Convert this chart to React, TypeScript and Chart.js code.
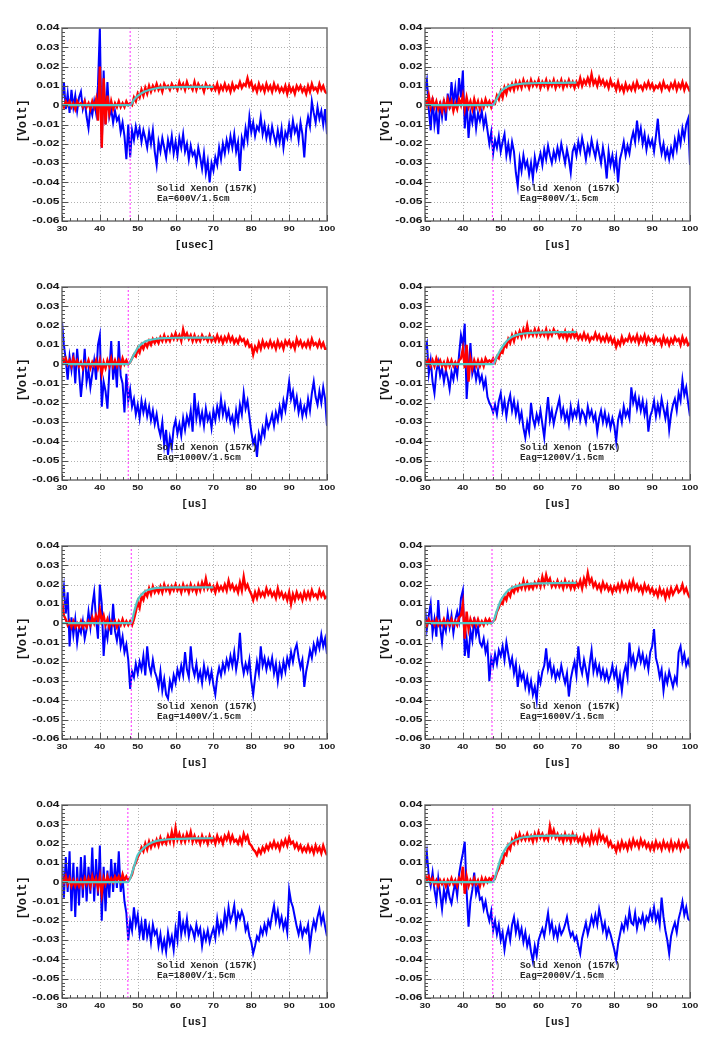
import { useEffect, useRef } from "react";
import { Chart, registerables } from "chart.js";

Chart.register(...registerables);

const T0_US = 30;
const DT_US = 0.5;

const X_TICKS = [30, 40, 50, 60, 70, 80, 90, 100];
const X_TICK_LABELS = ["30", "40", "50", "60", "70", "80", "90", "100"];
const Y_TICKS = [0.04, 0.03, 0.02, 0.01, 0, -0.01, -0.02, -0.03, -0.04, -0.05, -0.06];
const Y_TICK_LABELS = ["0.04", "0.03", "0.02", "0.01", "0", "-0.01", "-0.02", "-0.03", "-0.04", "-0.05", "-0.06"];

const SAMPLE_LABEL = "Solid Xenon (157K)";
const FIELD_LABELS = [
  "Ea=600V/1.5cm", "Eag=800V/1.5cm", "Eag=1000V/1.5cm", "Eag=1200V/1.5cm",
  "Eag=1400V/1.5cm", "Eag=1600V/1.5cm", "Ea=1800V/1.5cm", "Eag=2000V/1.5cm",
];
const X_TITLES = ["[usec]", "[us]", "[us]", "[us]", "[us]", "[us]", "[us]", "[us]"];
const Y_TITLE = "[Volt]";

// trigger marker (dotted magenta) position per panel, us
const TRIGGER_US = [48.0, 47.8, 47.5, 48.0, 48.3, 47.7, 47.4, 47.9];

// fit curve: times after onset, values in mV (first value at 30us, second at onset)
const FIT_T_AFTER = [49, 50, 51, 52, 53, 55, 57, 60, 65, 70];
const FIT_600 = [0, 0, 2.8, 4.8, 6.2, 7.2, 7.9, 8.8, 9.2, 9.4, 9.5, 9.5];
const FIT_800 = [0, 0, 3.5, 7.0, 8.7, 9.8, 10.4, 11.0, 11.3, 11.5, 11.6, 11.7];
const FIT_1000 = [0, 0, 5.0, 8.5, 10.5, 11.8, 12.5, 13.2, 13.5, 13.7, 13.8, 13.8];
const FIT_1200 = [0, 0, 4.0, 7.6, 10.6, 12.8, 14.2, 15.6, 16.1, 16.4, 16.6, 16.7];
const FIT_1400 = [0, 0, 5.5, 12.0, 14.8, 16.6, 17.4, 18.3, 18.5, 18.6, 18.6, 18.6];
const FIT_1600 = [0, 0, 6.5, 11.8, 14.8, 17.0, 18.4, 19.6, 20.2, 20.6, 20.8, 20.9];
const FIT_1800 = [0, 0, 8.0, 14.1, 16.5, 18.4, 19.8, 21.4, 22.0, 22.4, 22.7, 22.8];
const FIT_2000 = [0, 0, 6.0, 12.4, 16.5, 19.3, 21.0, 22.8, 23.5, 24.0, 24.1, 24.1];

// red trace (mV), 30..100 us every 0.5 us
const RED_600 = [
  1, -1, 2, 0, 2, -1, 1, -2, 2, 0,
  1, -1, 2, -1, 1, -2, 2, -1, 3, -8,
  20, -22, 14, -10, 5, -4, 2, -2, 1, -1,
  2, -1, 1, -1, 2, 0, 1, 0, 4, 2,
  6, 4, 8, 5, 9, 6, 10, 7, 10, 8,
  11, 8, 10, 7, 11, 9, 10, 8, 11, 9,
  10, 8, 12, 9, 11, 8, 12, 9, 10, 8,
  12, 8, 11, 9, 10, 7, 11, 9, 10, 8,
  10, 8, 11, 7, 10, 8, 11, 8, 10, 7,
  11, 8, 10, 9, 12, 9, 11, 10, 14, 10,
  12, 8, 10, 7, 11, 8, 10, 7, 11, 8,
  10, 7, 11, 8, 10, 7, 9, 7, 10, 6,
  10, 7, 9, 6, 10, 8, 10, 7, 9, 6,
  10, 7, 11, 8, 9, 7, 11, 8, 10, 7,
  6,
];
const BLUE_600 = [
  3, 12, -2, 6, -4, 8, -1, 5, -3, 4,
  7, -2, 2, -6, -12, -1, -5, 2, -4, 10,
  40, -22, 18, -10, 12, -6, -2, -9, -3, -8,
  -6, -14, -9, -16, -28, -10, -27, -13, -18, -11,
  -16, -12, -19, -13, -17, -22, -14, -20, -13, -24,
  -31, -19, -24, -17, -22, -27, -18, -23, -16, -25,
  -19, -26, -17, -22, -15, -24, -20, -28, -21, -26,
  -24, -30, -22, -27, -33, -25, -35, -29, -40, -30,
  -34, -27, -31, -22, -28, -20, -25, -18, -23, -16,
  -22, -15, -24, -19, -34, -17, -21, -12, -18, -6,
  -14, -9, -16, -11, -13, -6, -15, -10, -17, -12,
  -18, -11, -16, -20, -13, -19, -12, -22, -14, -17,
  -10, -16, -8, -14, -11, -18, -9, -15, -27, -12,
  -6, -11, 2, -4, -9, -1, -7, -3, -10, -2,
  -15,
];

const RED_800 = [
  3, 0, 5, -1, 3, -1, 2, -2, 1, -3,
  2, -2, 3, -1, 2, -3, 1, -2, 3, 0,
  5, -2, 4, -1, 2, -2, 3, -1, 2, -2,
  2, -1, 3, 0, 2, -1, 2, 1, 5, 3,
  7, 4, 9, 6, 10, 8, 11, 8, 12, 9,
  12, 9, 13, 10, 12, 9, 13, 10, 12, 10,
  13, 9, 12, 10, 13, 9, 12, 10, 13, 9,
  12, 10, 13, 9, 12, 10, 13, 10, 12, 9,
  12, 10, 14, 10, 13, 11, 14, 11, 16, 11,
  13, 10, 14, 11, 13, 10, 12, 9, 13, 10,
  11, 8, 12, 8, 10, 7, 11, 8, 10, 8,
  11, 8, 12, 9, 10, 8, 11, 9, 12, 9,
  11, 8, 10, 9, 11, 8, 12, 9, 10, 8,
  11, 9, 12, 8, 11, 9, 12, 8, 11, 9,
  7,
];
const BLUE_800 = [
  8, 13, -2, -13, 4, -10, -3, -15, 2, -6,
  3, -8, 6, -2, 12, 1, 9, -1, 14, 4,
  18, -12, 2, -17, -4, -9, -2, -12, -4, -8,
  -3, -11, -6, -13, -20, -14, -25, -18, -22, -16,
  -24, -19, -15, -26, -20, -27, -19, -24, -35, -42,
  -28, -34, -26, -32, -29, -36, -30, -38, -27, -33,
  -29, -25, -31, -23, -28, -21, -26, -30, -24, -28,
  -22, -27, -20, -25, -30, -23, -28, -35, -24, -21,
  -26, -19, -24, -17, -22, -28, -21, -25, -18, -23,
  -27, -20, -25, -30, -22, -28, -38, -24, -31, -26,
  -33, -27, -40, -28, -24, -19, -26, -21, -25, -18,
  -14, -19, -8, -17, -12, -20, -15, -23, -17, -21,
  -18, -24, -16, -7, -19, -25, -20, -27, -23, -28,
  -22, -26, -18, -23, -15, -20, -12, -17, -10, -7,
  -31,
];

const RED_1000 = [
  4, 1, 3, 0, 2, -1, 3, 0, 2, -1,
  1, -2, 1, -1, 2, -2, 1, -1, 2, -2,
  2, -5, 1, -2, 2, -1, 3, -1, 2, -1,
  2, -1, 3, 0, 2, 0, 1, 3, 5, 4,
  8, 6, 10, 8, 11, 9, 12, 10, 13, 11,
  13, 11, 14, 12, 15, 12, 14, 12, 15, 13,
  16, 13, 15, 12, 18, 14, 16, 13, 15, 12,
  15, 12, 14, 12, 15, 13, 14, 12, 15, 12,
  14, 12, 15, 12, 14, 11, 14, 12, 15, 12,
  14, 11, 13, 11, 14, 12, 13, 10, 12, 9,
  10, 5, 9, 7, 11, 8, 12, 9, 11, 9,
  12, 9, 11, 8, 12, 9, 11, 8, 12, 10,
  12, 9, 11, 8, 13, 10, 12, 9, 11, 9,
  12, 9, 13, 10, 11, 9, 12, 9, 11, 8,
  8,
];
const BLUE_1000 = [
  22, 10, 2, -8, 4, -3, 6, -10, 8, -4,
  -17, -6, 8, -9, -3, -12, -5, 2, -8, 10,
  15, -22, -9, -14, -23, -4, 12, -8, 2, -12,
  12, -6, -10, -25, -5, -19, -13, -22, -18, -26,
  -21, -28, -19, -25, -20, -27, -22, -29, -24, -31,
  -26, -33, -37, -30, -42, -34, -47, -38, -43, -33,
  -29, -36, -31, -37, -28, -34, -27, -31, -24, -35,
  -15, -28, -22, -30, -25, -32, -23, -29, -26, -33,
  -24, -29, -22, -27, -18, -26, -21, -28, -24, -30,
  -27, -33, -24, -30, -21, -26, -15, -23, -19, -27,
  -35, -41, -38, -48, -36, -40, -33, -37, -28, -33,
  -30, -26, -32, -25, -29, -22, -27, -19, -24, -17,
  -9, -18, -14, -22, -17, -25, -20, -27, -22, -26,
  -18, -24, -15, -9, -17, -21, -14, -20, -12, -18,
  -32,
];

const RED_1200 = [
  3, 0, 2, -1, 2, -1, 3, 0, 2, -1,
  1, -2, 2, -1, 2, -1, 1, -1, 2, 3,
  8, -2, 10, -9, 3, -2, 2, -1, 2, -1,
  2, -1, 3, 1, 2, 1, 3, 1, 4, 3,
  7, 6, 10, 9, 13, 11, 15, 12, 16, 14,
  17, 14, 18, 15, 20, 15, 17, 15, 18, 15,
  18, 15, 17, 15, 18, 14, 17, 15, 18, 16,
  17, 14, 16, 14, 17, 13, 16, 14, 17, 14,
  16, 13, 15, 13, 16, 13, 15, 12, 14, 13,
  16, 13, 15, 12, 14, 12, 15, 12, 14, 11,
  13, 9, 12, 10, 14, 11, 13, 12, 15, 12,
  14, 12, 15, 11, 14, 12, 15, 11, 14, 12,
  13, 11, 14, 12, 13, 10, 14, 11, 13, 10,
  13, 11, 14, 12, 13, 10, 14, 11, 13, 10,
  11,
];
const BLUE_1200 = [
  8, 11, -5, 2, -9, -15, -4, 1, -6, -2,
  -9, -3, -7, -13, -4, -8, -1, -6, 5, 15,
  10, 21, -18, -2, 11, -5, -1, -8, -3, -9,
  -6, -12, -8, -17, -20, -22, -25, -21, -26, -19,
  -15, -24, -19, -27, -20, -16, -24, -19, -26, -21,
  -29, -25, -33, -38, -30, -35, -20, -28, -32, -26,
  -30, -24, -31, -38, -27, -17, -29, -24, -31, -26,
  -22, -18, -27, -23, -29, -25, -31, -22, -28, -24,
  -27, -21, -29, -24, -26, -30, -22, -27, -24, -29,
  -26, -35, -28, -24, -30, -25, -31, -27, -33, -28,
  -32, -40, -29, -25, -30, -22, -27, -24, -28, -12,
  -20, -16, -23, -18, -24, -19, -26, -21, -35, -27,
  -24, -19, -27, -21, -26, -18, -23, -28, -22, -34,
  -26, -21, -18, -24, -15, -19, -8, -16, -12, -20,
  -27,
];

const RED_1400 = [
  12, 4, 2, -1, 1, -2, 1, -2, 0, -2,
  1, -2, 0, -2, 1, -1, 3, 0, 4, 1,
  7, 1, 4, -1, 2, -2, 1, -1, 1, -2,
  1, -1, 2, -1, 1, -1, 1, -1, 2, 6,
  11, 8, 14, 12, 16, 14, 18, 15, 19, 16,
  18, 16, 19, 16, 20, 17, 19, 16, 19, 17,
  20, 17, 19, 16, 20, 17, 19, 16, 20, 17,
  19, 16, 20, 17, 21, 18, 23, 18, 20, 17,
  19, 16, 20, 17, 19, 17, 20, 17, 22, 18,
  20, 17, 19, 16, 21, 17, 24, 18, 20, 17,
  15, 12, 16, 13, 17, 14, 16, 14, 18, 15,
  17, 14, 16, 13, 18, 14, 16, 13, 15, 12,
  16, 10, 15, 12, 16, 13, 15, 12, 16, 13,
  16, 13, 17, 14, 15, 13, 17, 14, 16, 13,
  14,
];
const BLUE_1400 = [
  12, 19, 5, 16, -12, 3, -6, 2, -10, -2,
  -5, 1, -8, -3, 6, -2, 9, 16, 2, -8,
  20, 10, -17, -3, -8, 2, -6, 10, -4, -9,
  -2, -12, -7, -15, -11, -19, -34, -25, -28, -21,
  -26, -20, -24, -17, -27, -12, -22, -26, -19, -25,
  -28, -33, -25, -35, -29, -37, -39, -30, -34, -27,
  -31, -24, -28, -22, -27, -15, -24, -28, -12, -23,
  -27, -21, -29, -25, -31, -22, -28, -24, -30, -25,
  -32, -37, -28, -23, -27, -21, -25, -19, -23, -17,
  -22, -15, -24, -18, -5, -20, -26, -21, -25, -19,
  -30, -37, -28, -20, -26, -12, -22, -18, -24, -19,
  -23, -18, -26, -21, -30, -22, -27, -20, -25, -18,
  -22, -15, -20, -14, -11, -18, -23, -19, -33, -25,
  -20, -14, -18, -11, -15, -9, -13, -6, -12, -8,
  -16,
];

const RED_1600 = [
  2, -1, 2, 0, 1, -1, 2, -1, 1, -1,
  2, -1, 1, -1, 2, -1, 1, -1, 3, 4,
  10, -8, 6, -3, 2, -1, 2, -1, 2, -1,
  1, -1, 2, 0, 2, 0, 1, 2, 6, 8,
  11, 10, 14, 12, 16, 14, 18, 16, 19, 17,
  20, 18, 22, 18, 21, 18, 20, 18, 21, 19,
  22, 19, 24, 20, 25, 21, 23, 19, 21, 19,
  22, 19, 21, 18, 22, 19, 21, 18, 21, 18,
  21, 19, 22, 18, 23, 20, 26, 21, 23, 19,
  21, 18, 20, 17, 21, 18, 20, 17, 19, 16,
  19, 17, 20, 17, 21, 18, 20, 17, 21, 18,
  22, 18, 20, 17, 19, 16, 20, 17, 19, 16,
  18, 15, 17, 14, 18, 15, 17, 13, 17, 14,
  18, 15, 17, 19, 16, 17, 20, 16, 18, 15,
  13,
];
const BLUE_1600 = [
  8, -3, 4, 10, -5, 2, -7, 12, -2, -10,
  0, -4, 5, -2, 4, -5, 2, 6, 1, 13,
  17, -17, -8, -18, -4, -9, 3, -6, -2, -10,
  -12, -8, -15, -11, -30, -18, -22, -16, -21, -14,
  -17, -12, -19, -10, -16, -22, -18, -26, -21, -33,
  -24, -29, -26, -33, -28, -35, -30, -37, -33, -40,
  -27, -31, -25, -22, -13, -24, -20, -27, -23, -29,
  -25, -28, -22, -27, -31, -26, -38, -29, -24, -20,
  -27, -12, -22, -26, -19, -24, -30, -21, -14, -25,
  -20, -26, -22, -28, -24, -29, -25, -30, -27, -22,
  -28, -24, -33, -27, -35, -26, -22, -28, -10, -21,
  -17, -23, -19, -14, -20, -16, -22, -18, -24, -15,
  -12, -3, -18, -22, -28, -24, -35, -27, -31, -25,
  -29, -33, -28, -31, -15, -12, -20, -16, -22, -19,
  -23,
];

const RED_1800 = [
  3, 0, 3, -1, 2, -2, 1, -2, 1, -2,
  1, -2, 2, -1, 2, -2, 3, -1, 2, -3,
  3, -6, 2, -1, 3, 0, 2, 0, 3, 1,
  3, 0, 4, 1, 3, 1, 2, 4, 8, 10,
  13, 15, 18, 16, 20, 17, 21, 18, 21, 19,
  22, 19, 23, 20, 22, 20, 24, 21, 26, 21,
  28, 22, 25, 21, 24, 21, 25, 22, 26, 21,
  24, 21, 23, 20, 24, 21, 23, 20, 24, 21,
  23, 20, 24, 21, 23, 20, 24, 22, 25, 21,
  24, 21, 22, 20, 23, 20, 25, 22, 24, 20,
  19, 17, 16, 14, 17, 15, 18, 16, 19, 17,
  20, 18, 21, 18, 20, 17, 21, 19, 22, 19,
  23, 20, 21, 18, 20, 17, 19, 16, 18, 16,
  19, 16, 18, 15, 19, 16, 18, 15, 19, 16,
  14,
];
const BLUE_1800 = [
  10, -8, 13, -5, 16, -15, 10, -18, 8, -12,
  13, -8, 14, -10, 8, -6, 18, -10, 12, -7,
  19, -20, 8, -15, 6, -8, 12, -5, 10, -3,
  16, -5, 2, -10, -16, -30, -20, -25, -13, -22,
  -17, -27, -21, -30, -19, -28, -23, -31, -22, -27,
  -25, -33, -27, -35, -30, -36, -26, -32, -28, -35,
  -24, -30, -15, -27, -21, -26, -19, -28, -23, -25,
  -29, -22, -27, -24, -33, -26, -30, -25, -31, -27,
  -24, -29, -19, -26, -21, -25, -16, -22, -13, -20,
  -17, -12, -22, -16, -19, -15, -18, -25, -22, -28,
  -31, -37, -33, -28, -30, -24, -27, -22, -26, -20,
  -23, -17, -12, -20, -15, -22, -18, -24, -20, -26,
  -4, -10, -13, -18, -23, -27, -22, -28, -24, -26,
  -22, -33, -25, -20, -24, -18, -14, -21, -17, -23,
  -28,
];

const RED_2000 = [
  4, 1, 3, 0, 2, -1, 1, -2, 1, -1,
  1, -2, 1, -1, 2, -1, 1, -2, 2, 0,
  8, -6, 3, -2, 1, -1, 2, -1, 1, -2,
  2, -1, 2, 0, 2, 1, 3, 2, 5, 7,
  11, 10, 15, 14, 19, 17, 22, 20, 24, 21,
  25, 22, 24, 22, 25, 22, 24, 21, 25, 22,
  26, 23, 25, 22, 24, 22, 29, 24, 27, 23,
  25, 22, 24, 21, 25, 22, 24, 21, 25, 22,
  24, 21, 23, 20, 24, 21, 23, 20, 25, 21,
  24, 21, 26, 22, 24, 21, 23, 19, 21, 18,
  19, 16, 20, 17, 21, 18, 20, 17, 21, 18,
  22, 19, 21, 18, 22, 19, 21, 18, 20, 17,
  20, 17, 21, 18, 20, 17, 21, 18, 20, 17,
  21, 17, 20, 18, 21, 17, 20, 18, 21, 18,
  18,
];
const BLUE_2000 = [
  7, 15, 3, -2, 5, -4, -10, 2, -6, -14,
  -4, -9, -2, -8, -11, -5, 0, -7, 4, 10,
  15, 21, -5, -23, -10, -4, 5, -6, -2, -9,
  -8, -14, -10, -16, -20, -15, -25, -20, -27, -22,
  -30, -26, -35, -28, -24, -30, -22, -18, -26, -21,
  -28, -24, -31, -26, -33, -29, -36, -41, -33, -38,
  -30, -27, -24, -28, -22, -16, -25, -21, -28, -24,
  -29, -23, -27, -25, -22, -18, -24, -28, -26, -30,
  -28, -33, -37, -29, -25, -21, -27, -23, -18, -22,
  -17, -22, -14, -19, -25, -21, -28, -24, -27, -31,
  -35, -40, -32, -27, -22, -25, -19, -23, -15, -21,
  -22, -16, -24, -19, -21, -17, -23, -18, -20, -15,
  -19, -13, -20, -16, -22, -8, -18, -25, -30, -37,
  -28, -24, -21, -26, -19, -15, -10, -17, -13, -19,
  -20,
];

const REDS = [RED_600, RED_800, RED_1000, RED_1200, RED_1400, RED_1600, RED_1800, RED_2000];
const BLUES = [BLUE_600, BLUE_800, BLUE_1000, BLUE_1200, BLUE_1400, BLUE_1600, BLUE_1800, BLUE_2000];
const FITS = [FIT_600, FIT_800, FIT_1000, FIT_1200, FIT_1400, FIT_1600, FIT_1800, FIT_2000];

const PANEL_H = 259;
const PLOT_TOP = 28;
const PLOT_BOTTOM_SPACE = 38;

function squash(ctx: CanvasRenderingContext2D, text: string, x: number, y: number, sy: number) {
  ctx.save();
  ctx.translate(x, y);
  ctx.scale(1, sy);
  ctx.fillText(text, 0, 0);
  ctx.restore();
}

function Panel({ idx }: { idx: number }) {
  const ref = useRef<HTMLCanvasElement>(null);
  const col = idx % 2;
  const row = Math.floor(idx / 2);
  const w = col === 0 ? 360 : 359;

  useEffect(() => {
    const canvas = ref.current;
    if (!canvas) return;
    const plotLeft = col === 0 ? 62 : 65;
    const plotRight = col === 0 ? 327 : 330;

    const red = REDS[idx].map((v, i) => ({ x: T0_US + i * DT_US, y: v / 1000 }));
    const blue = BLUES[idx].map((v, i) => ({ x: T0_US + i * DT_US, y: v / 1000 }));
    const fitT = [T0_US, TRIGGER_US[idx], ...FIT_T_AFTER];
    const fit = FITS[idx].map((v, j) => ({ x: fitT[j], y: v / 1000 }));
    const marker = [
      { x: TRIGGER_US[idx], y: -0.06 },
      { x: TRIGGER_US[idx], y: 0.04 },
    ];

    const decor = {
      id: "decor",
      beforeDatasetsDraw(c: any) {
        const { ctx, chartArea: a } = c;
        const xs = c.scales.x;
        const ys = c.scales.y;
        ctx.save();
        ctx.strokeStyle = "#b2b2b2";
        ctx.lineWidth = 1;
        ctx.setLineDash([1, 2]);
        ctx.beginPath();
        X_TICKS.slice(1, -1).forEach((v) => {
          const p = Math.round(xs.getPixelForValue(v)) + 0.5;
          ctx.moveTo(p, a.top);
          ctx.lineTo(p, a.bottom);
        });
        Y_TICKS.slice(1, -1).forEach((v) => {
          const p = Math.round(ys.getPixelForValue(v)) + 0.5;
          ctx.moveTo(a.left, p);
          ctx.lineTo(a.right, p);
        });
        ctx.stroke();
        ctx.restore();
      },
      afterDatasetsDraw(c: any) {
        const { ctx, chartArea: a } = c;
        const xs = c.scales.x;
        const ys = c.scales.y;
        ctx.save();
        // frame
        ctx.strokeStyle = "#707070";
        ctx.lineWidth = 1.5;
        ctx.setLineDash([]);
        ctx.strokeRect(a.left, a.top, a.right - a.left, a.bottom - a.top);
        // tick marks (inside)
        ctx.strokeStyle = "#505050";
        ctx.lineWidth = 1;
        ctx.beginPath();
        for (let k = 0; k <= 50; k++) {
          const p = Math.round(ys.getPixelForValue(-0.06 + k * 0.002)) + 0.5;
          const len = k % 5 === 0 ? 6 : 3;
          ctx.moveTo(a.left, p);
          ctx.lineTo(a.left + len, p);
        }
        for (let k = 0; k <= 35; k++) {
          const p = Math.round(xs.getPixelForValue(30 + k * 2)) + 0.5;
          const len = k % 5 === 0 ? 6 : 3;
          ctx.moveTo(p, a.bottom);
          ctx.lineTo(p, a.bottom - len);
        }
        ctx.stroke();

        // tick labels
        ctx.fillStyle = "#151515";
        ctx.font = "bold 12px 'Liberation Sans'";
        ctx.textAlign = "right";
        ctx.textBaseline = "middle";
        Y_TICKS.forEach((v, i) => {
          squash(ctx, Y_TICK_LABELS[i], a.left - 2.5, ys.getPixelForValue(v), 0.72);
        });
        ctx.font = "bold 10px 'Liberation Sans'";
        ctx.textAlign = "center";
        X_TICKS.forEach((v, i) => {
          squash(ctx, X_TICK_LABELS[i], xs.getPixelForValue(v), a.bottom + 7.5, 0.8);
        });

        // axis titles
        ctx.font = "bold 11px 'Liberation Mono'";
        ctx.fillStyle = "#151515";
        ctx.textAlign = "center";
        ctx.fillText(X_TITLES[idx], (a.left + a.right) / 2, a.bottom + 24);
        ctx.save();
        ctx.translate(a.left - 39, a.top + 93);
        ctx.rotate(-Math.PI / 2);
        ctx.font = "bold 12px 'Liberation Mono'";
        ctx.fillText(Y_TITLE, 0, 0);
        ctx.restore();

        // annotation
        ctx.font = "bold 9.3px 'Liberation Mono'";
        ctx.fillStyle = "#262626";
        ctx.textAlign = "left";
        const tx = xs.getPixelForValue(55.1);
        squash(ctx, SAMPLE_LABEL, tx, ys.getPixelForValue(-0.0434), 0.9);
        squash(ctx, FIELD_LABELS[idx], tx, ys.getPixelForValue(-0.0486), 0.9);
        ctx.restore();
      },
    };

    const chart = new Chart(canvas, {
      type: "line",
      data: {
        datasets: [
          {
            label: "trigger",
            data: marker,
            borderColor: "#ff2cff",
            borderWidth: 1,
            borderDash: [2, 2],
            pointRadius: 0,
          },
          {
            label: "fit",
            data: fit,
            borderColor: "#52c6c6",
            borderWidth: 2.2,
            pointRadius: 0,
            cubicInterpolationMode: "monotone",
          },
          {
            label: "red",
            data: red,
            borderColor: "#ff0000",
            borderWidth: 2.4,
            pointRadius: 0,
          },
          {
            label: "blue",
            data: blue,
            borderColor: "#0000ff",
            borderWidth: 2,
            pointRadius: 0,
          },
        ],
      } as any,
      options: {
        responsive: false,
        animation: false,
        events: [],
        layout: {
          padding: { left: 0, right: w - plotRight, top: PLOT_TOP, bottom: 0 },
        },
        plugins: { legend: { display: false }, tooltip: { enabled: false } },
        scales: {
          x: {
            type: "linear",
            min: 30,
            max: 100,
            ticks: { display: false },
            grid: { display: false },
            border: { display: false },
            afterFit: (s: any) => {
              s.height = PLOT_BOTTOM_SPACE;
            },
          },
          y: {
            type: "linear",
            min: -0.06,
            max: 0.04,
            ticks: { display: false },
            grid: { display: false },
            border: { display: false },
            afterFit: (s: any) => {
              s.width = plotLeft;
            },
          },
        },
      } as any,
      plugins: [decor],
    });
    return () => chart.destroy();
  }, [idx]);

  return (
    <canvas
      ref={ref}
      width={w}
      height={PANEL_H}
      style={{ position: "absolute", left: col * 360, top: row * PANEL_H, width: w, height: PANEL_H }}
    />
  );
}

export default function App() {
  return (
    <div style={{ position: "absolute", left: 0, top: 0, width: 719, height: 1047, background: "#ffffff" }}>
      {REDS.map((_, i) => (
        <Panel key={i} idx={i} />
      ))}
    </div>
  );
}
